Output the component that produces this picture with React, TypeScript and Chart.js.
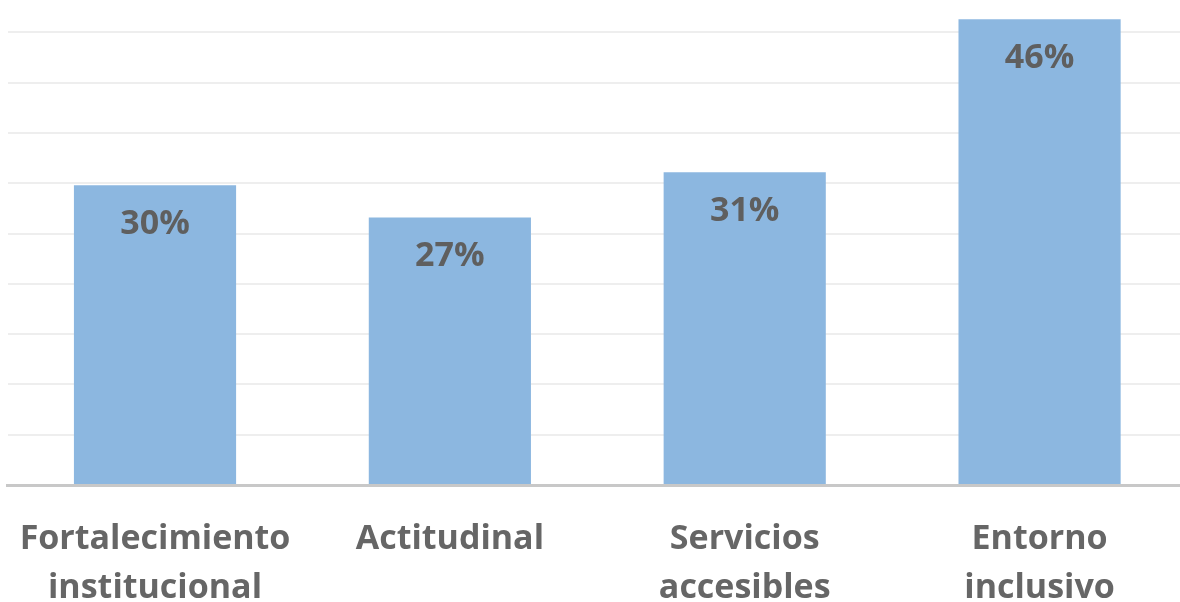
import React, { useEffect, useRef } from "react";
import { Chart, registerables } from "chart.js";

Chart.register(...registerables);

const categories: string[][] = [
  ["Fortalecimiento", "institucional"],
  ["Actitudinal"],
  ["Servicios", "accesibles"],
  ["Entorno", "inclusivo"],
];
// bar heights; labels show the rounded percentages
const values: number[] = [29.8, 26.6, 31.1, 46.3];
const valueLabelsText: string[] = ["30%", "27%", "31%", "46%"];
const yMin = 0;
const yMax = 50;
const yStep = 5;

const FONT = "'Open Sans', sans-serif";
const LABEL_COLOR = "#666666";
const VALUE_COLOR = "#5f5f5f";

const valueLabels = {
  id: "valueLabels",
  afterDatasetsDraw(chart: any) {
    const ctx = chart.ctx;
    const meta = chart.getDatasetMeta(0);
    ctx.save();
    ctx.font = `bold 34px ${FONT}`;
    ctx.fillStyle = VALUE_COLOR;
    ctx.textAlign = "center";
    ctx.textBaseline = "middle";
    meta.data.forEach((el: any, i: number) => {
      ctx.fillText(valueLabelsText[i], el.x, el.y + 39);
    });
    ctx.restore();
  },
};

export default function App() {
  const ref = useRef<HTMLCanvasElement>(null);
  useEffect(() => {
    if (!ref.current) return;
    const chart = new Chart(ref.current, {
      type: "bar",
      data: {
        labels: categories,
        datasets: [
          {
            data: values,
            backgroundColor: "#8cb7e0",
            barPercentage: 0.55,
            categoryPercentage: 1,
          },
        ],
      },
      options: {
        animation: false,
        responsive: false,
        maintainAspectRatio: false,
        layout: { padding: { left: 5, right: 2, top: 12, bottom: 0 } },
        plugins: { legend: { display: false }, tooltip: { enabled: false } },
        scales: {
          x: {
            grid: { display: false },
            border: { display: true, color: "#c8c8c8", width: 3 },
            ticks: {
              color: LABEL_COLOR,
              font: { family: FONT, weight: "bold", size: 34, lineHeight: 1.43 },
              padding: 22,
              maxRotation: 0,
              autoSkip: false,
            },
            afterFit: (s: any) => {
              s.height = 125;
            },
          },
          y: {
            min: yMin,
            max: yMax,
            ticks: { display: false, stepSize: yStep },
            grid: { color: "#eeeeee", lineWidth: 2, drawTicks: false },
            border: { display: false },
            afterFit: (s: any) => {
              s.width = 0;
            },
          },
        },
      },
      plugins: [valueLabels],
    });
    return () => chart.destroy();
  }, []);
  return (
    <div
      style={{
        position: "fixed",
        left: 0,
        top: 0,
        width: 1180,
        height: 602,
        overflow: "hidden",
        background: "#fff",
      }}
    >
      <canvas
        ref={ref}
        width={1192}
        height={640}
        style={{ position: "absolute", left: -3, top: -30, width: 1192, height: 640 }}
      />
    </div>
  );
}
